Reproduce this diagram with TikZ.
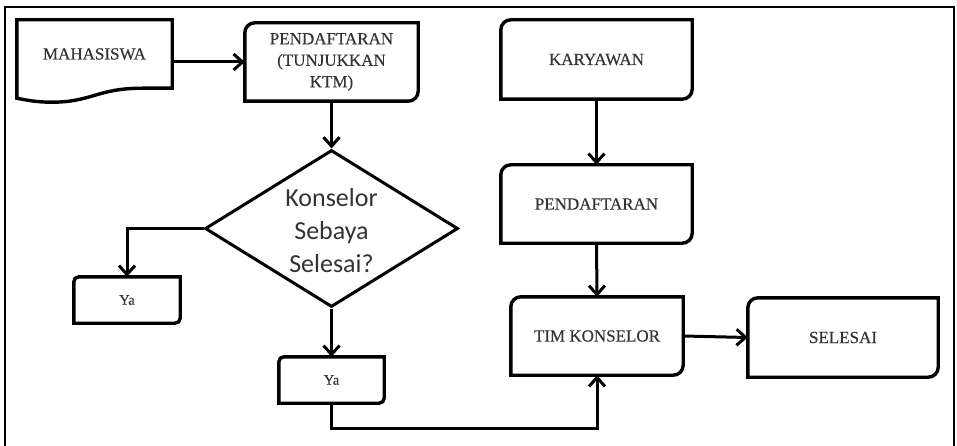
\documentclass[tikz,border=0pt]{standalone}
\usepackage{fontspec}
\setmainfont{Liberation Serif}[FakeBold=0.35]
\newfontfamily\diafont{Carlito}
\usetikzlibrary{arrows.meta,shapes.geometric,calc}

% outline of a process box: rounded top-left and bottom-right corners
\newcommand\cornerbox[2]{%
  \draw[boxline] (#1.south west) -- ([yshift=-#2]#1.north west)
    arc[start angle=180,end angle=90,radius=#2] -- (#1.north east)
    -- ([yshift=#2]#1.south east)
    arc[start angle=0,end angle=-90,radius=#2] -- cycle;}

\begin{document}
\begin{tikzpicture}[x=1pt,y=1pt,
  txt/.style={text=black!80, font=\fontsize{17}{21.5}\selectfont, align=center, inner sep=0pt},
  smalltxt/.style={txt, font=\fontsize{14.5}{17}\selectfont},
  frameline/.style={line width=2.4pt},
  boxline/.style={line width=3.4pt, line join=miter},
  link/.style={line width=3pt},
  arr/.style={link, -{Straight Barb[length=9pt,width=16pt]}},
]
\useasboundingbox (0,0) rectangle (957,445);

% outer frame (open at the bottom)
\draw[frameline] (5,-3) -- (5,438) -- (954,438) -- (954,-3);

% nodes
\node[txt, minimum width=155pt, minimum height=68pt] (mhs) at (94.5,391) {MAHASISWA};
\node[txt, minimum width=173pt, minimum height=78pt] (pd1) at (331.5,383) {PENDAFTARAN\\(TUNJUKKAN\\KTM)};
\node[diamond, draw, line width=3pt, inner sep=0pt, aspect=1.61,
      minimum width=253pt, minimum height=157pt] (dia) at (331.5,216.5) {};
\node[txt, font=\diafont\fontsize{26}{33}\selectfont] (diatxt) at (331.5,214) {Konselor\\Sebaya\\Selesai?};
\node[smalltxt, minimum width=106pt, minimum height=46pt] (ya1) at (127,145) {Ya};
\node[smalltxt, minimum width=105pt, minimum height=46pt] (ya2) at (331.5,65) {Ya};
\node[txt, minimum width=191pt, minimum height=79pt] (kar) at (596.5,385.5) {KARYAWAN};
\node[txt, minimum width=191pt, minimum height=78pt] (pd2) at (596.5,241) {PENDAFTARAN};
\node[txt, minimum width=172pt, minimum height=78pt] (tim) at (597,109) {TIM KONSELOR};
\node[txt, minimum width=190pt, minimum height=79pt] (sel) at (843,107.5) {SELESAI};
\coordinate (turn) at (331.5,17);

% document shape with wavy bottom
\draw[boxline] (mhs.south west) ++(0,-10) -- (mhs.north west) -- (mhs.north east)
  -- (mhs.south east) -- ($(mhs.south east)+(-30,0)$)
  .. controls +(-45,0) and +(40,0) .. ($(mhs.south west)+(35,-14)$)
  .. controls +(-15,0) and +(10,-2) .. ($(mhs.south west)+(0,-10)$) -- cycle;

% process boxes
\cornerbox{pd1}{10pt}
\cornerbox{kar}{10pt}
\cornerbox{pd2}{10pt}
\cornerbox{tim}{10pt}
\cornerbox{sel}{10pt}
\cornerbox{ya1}{5pt}
\cornerbox{ya2}{5pt}

% connectors
\draw[arr] (mhs.east |- pd1.west) -- (pd1.west);
\draw[arr] (pd1.south) -- (dia.north);
\draw[arr] (dia.west) -| (ya1.north);
\draw[arr] (dia.south) -- (ya2.north);
\draw[arr] (ya2.south) -- (turn) -| (tim.south);
\draw[arr] (kar.south) -- (pd2.north);
\draw[arr] (pd2.south) -- (tim.north);
\draw[arr] (tim.east) -- (sel.west);
\end{tikzpicture}
\end{document}
